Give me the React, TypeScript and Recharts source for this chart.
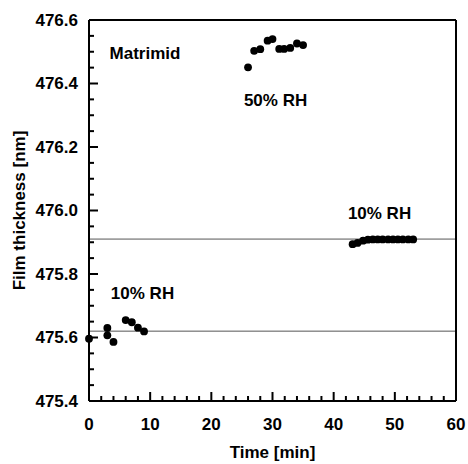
import React from 'react';
import {
  ScatterChart,
  Scatter,
  XAxis,
  YAxis,
  ReferenceLine,
  ReferenceDot,
  Label,
} from 'recharts';

// 10% RH, first step
const firstTimes = [0, 3, 3, 4, 6, 7, 8, 9];
const firstThickness = [475.596, 475.63, 475.607, 475.586, 475.655, 475.648, 475.631, 475.619];

// 50% RH
const humidTimes = [26, 27, 28, 29.2, 30, 31.1, 31.9, 32.9, 34, 35];
const humidThickness = [476.451, 476.503, 476.508, 476.535, 476.54, 476.509, 476.509, 476.512, 476.526, 476.521];

// 10% RH, back again
const dryTimes = [43.1, 43.9, 44.8, 45.6, 46.4, 47.2, 48.0, 48.9, 49.7, 50.5, 51.3, 52.2, 53.0];
const dryThickness = [475.894, 475.898, 475.905, 475.908, 475.909, 475.909, 475.909, 475.909, 475.909, 475.909, 475.909, 475.909, 475.909];

const baselines = [475.91, 475.62];

const xMajor = [0, 10, 20, 30, 40, 50, 60];
const xTicks = [0, 2, 4, 6, 8, 10, 12, 14, 16, 18, 20, 22, 24, 26, 28, 30, 32, 34, 36, 38, 40, 42, 44, 46, 48, 50, 52, 54, 56, 58, 60];
const yMajor = ['475.4', '475.6', '475.8', '476.0', '476.2', '476.4', '476.6'];
const yTicks = [475.4, 475.45, 475.5, 475.55, 475.6, 475.65, 475.7, 475.75, 475.8, 475.85, 475.9, 475.95, 476.0, 476.05, 476.1, 476.15, 476.2, 476.25, 476.3, 476.35, 476.4, 476.45, 476.5, 476.55, 476.6];

const notes = [
  { text: 'Matrimid', x: 9.15, y: 476.496 },
  { text: '50% RH', x: 30.5, y: 476.348 },
  { text: '10% RH', x: 47.5, y: 475.992 },
  { text: '10% RH', x: 8.75, y: 475.741 },
];

const toPoints = (t: number[], v: number[]) => t.map((x, i) => ({ x, y: v[i] }));
const allPoints = [
  ...toPoints(firstTimes, firstThickness),
  ...toPoints(humidTimes, humidThickness),
  ...toPoints(dryTimes, dryThickness),
];

const FONT = '"Liberation Sans", Arial, Helvetica, sans-serif';

const isMajorX = (v: number) => xMajor.includes(v);
const isMajorY = (v: number) => yMajor.some((s) => Math.abs(parseFloat(s) - v) < 1e-6);

const BottomTick = (props: any) => {
  const { x, y, payload } = props;
  const major = isMajorX(payload.value);
  return (
    <g>
      <line x1={x} y1={y} x2={x} y2={y - (major ? 9 : 5)} stroke="#000" strokeWidth={2} />
      {major && (
        <text x={x} y={y + 23} textAnchor="middle" dominantBaseline="central" fontSize={17} fontWeight="bold" fontFamily={FONT} fill="#000">
          {payload.value}
        </text>
      )}
    </g>
  );
};

const TopTick = (props: any) => {
  const { x, y, payload } = props;
  const major = isMajorX(payload.value);
  return <line x1={x} y1={y} x2={x} y2={y + (major ? 9 : 5)} stroke="#000" strokeWidth={2} />;
};

const LeftTick = (props: any) => {
  const { x, y, payload } = props;
  const major = isMajorY(payload.value);
  return (
    <g>
      <line x1={x} y1={y} x2={x + (major ? 9 : 5)} y2={y} stroke="#000" strokeWidth={2} />
      {major && (
        <text x={x - 11} y={y} textAnchor="end" dominantBaseline="central" fontSize={17} fontWeight="bold" fontFamily={FONT} fill="#000">
          {payload.value.toFixed(1)}
        </text>
      )}
    </g>
  );
};

const RightTick = (props: any) => {
  const { x, y, payload } = props;
  const major = isMajorY(payload.value);
  return <line x1={x} y1={y} x2={x - (major ? 9 : 5)} y2={y} stroke="#000" strokeWidth={2} />;
};

const Dot = (props: any) => {
  const { cx, cy } = props;
  return <circle cx={cx} cy={cy} r={3.9} fill="#000" />;
};

export default function App() {
  return (
    <div style={{ position: 'absolute', left: 0, top: 0, background: '#fff' }}>
      <ScatterChart width={468} height={464} margin={{ top: 0, right: 0, bottom: 0, left: 0 }}>
        <XAxis
          xAxisId="b"
          type="number"
          dataKey="x"
          domain={[0, 60]}
          ticks={xTicks}
          interval={0}
          height={63}
          tickSize={0}
          tickMargin={0}
          tickLine={false}
          tick={<BottomTick />}
          axisLine={{ stroke: '#000', strokeWidth: 2 }}
        >
          <Label value="Time [min]" position="insideBottom" offset={6} style={{ fontSize: 17, fontWeight: 'bold', fontFamily: FONT, fill: '#000' }} />
        </XAxis>
        <XAxis
          xAxisId="t"
          orientation="top"
          type="number"
          domain={[0, 60]}
          ticks={xTicks}
          interval={0}
          height={20}
          tickSize={0}
          tickMargin={0}
          tickLine={false}
          tick={<TopTick />}
          axisLine={{ stroke: '#000', strokeWidth: 2 }}
        />
        <YAxis
          yAxisId="l"
          type="number"
          dataKey="y"
          domain={[475.4, 476.6]}
          ticks={yTicks}
          interval={0}
          width={89}
          tickSize={0}
          tickMargin={0}
          tickLine={false}
          tick={<LeftTick />}
          axisLine={{ stroke: '#000', strokeWidth: 2 }}
          allowDataOverflow
        >
          <Label
            value="Film thickness [nm]"
            angle={-90}
            position="insideLeft"
            offset={19}
            style={{ textAnchor: 'middle', fontSize: 17, fontWeight: 'bold', fontFamily: FONT, fill: '#000' }}
          />
        </YAxis>
        <YAxis
          yAxisId="r"
          orientation="right"
          type="number"
          domain={[475.4, 476.6]}
          ticks={yTicks}
          interval={0}
          width={12}
          tickSize={0}
          tickMargin={0}
          tickLine={false}
          tick={<RightTick />}
          axisLine={{ stroke: '#000', strokeWidth: 2 }}
        />
        {baselines.map((v, i) => (
          <ReferenceLine key={i} xAxisId="b" yAxisId="l" y={v} stroke="#555" strokeWidth={1} />
        ))}
        {notes.map((n, i) => (
          <ReferenceDot
            key={i}
            xAxisId="b"
            yAxisId="l"
            x={n.x}
            y={n.y}
            r={0}
            stroke="none"
            fill="none"
            label={{ value: n.text, position: 'center', fontSize: 17, fontWeight: 'bold', fontFamily: FONT, fill: '#000' }}
          />
        ))}
        <Scatter xAxisId="b" yAxisId="l" data={allPoints} shape={<Dot />} isAnimationActive={false} />
      </ScatterChart>
    </div>
  );
}
